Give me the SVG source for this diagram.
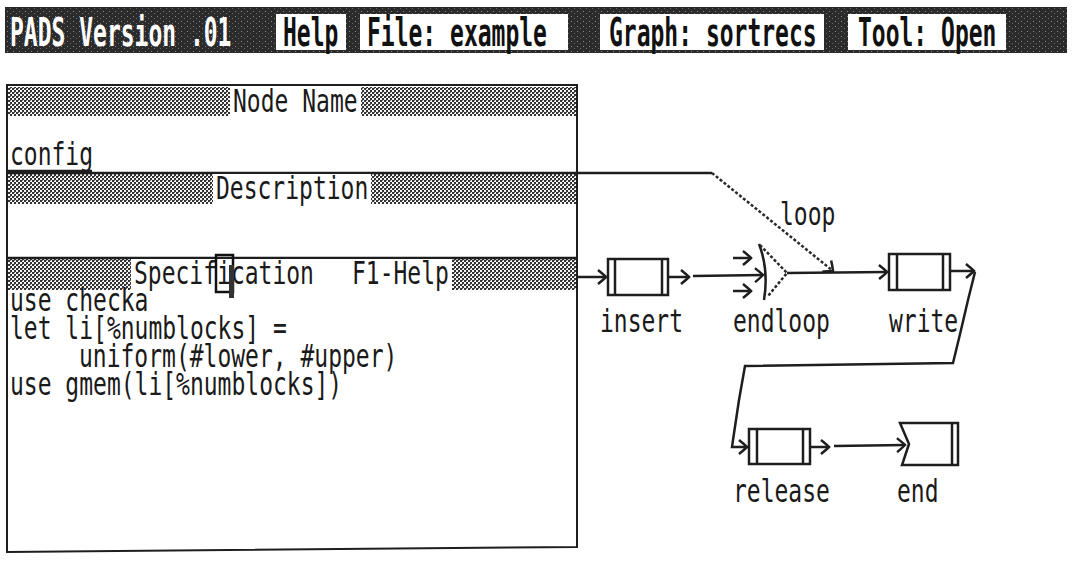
<svg xmlns="http://www.w3.org/2000/svg" width="1073" height="563" viewBox="0 0 1073 563">
<style>
.t{font-family:"DejaVu Sans Mono","Liberation Mono",monospace;font-size:23px;fill:#1a1a1a}
.tw{font-weight:bold;fill:#fff}
.tm{font-weight:bold;fill:#111}
.ln{fill:none;stroke:#1e1e1e;stroke-width:2.5}
.dot{fill:none;stroke:#2a2a2a;stroke-width:2.5;stroke-dasharray:3 2}
.box{fill:#fff;stroke:#1e1e1e;stroke-width:2.5}
.menu{fill:#fff}
</style>
<defs>
<pattern id="dither" width="4" height="4" patternUnits="userSpaceOnUse">
<rect width="4" height="4" fill="#f4f4f4"/>
<rect width="2" height="2" fill="#333"/>
<rect x="2" y="2" width="2" height="2" fill="#333"/>
<rect x="2" y="0" width="1" height="1" fill="#666"/>
</pattern>
<pattern id="dark" width="6" height="5" patternUnits="userSpaceOnUse">
<rect width="6" height="5" fill="#2b2b2b"/>
<rect x="1" y="1" width="1" height="1" fill="#8a8a8a"/>
<rect x="4" y="3" width="1" height="1" fill="#6a6a6a"/>
</pattern>
<marker id="ah" markerWidth="12" markerHeight="16" refX="10" refY="8" orient="auto" markerUnits="userSpaceOnUse">
<path d="M2,1 Q7,5 10,8 Q7,11 2,15" fill="none" stroke="#1e1e1e" stroke-width="2.5"/>
</marker>
</defs>
<rect width="1073" height="563" fill="#fff"/>

<g id="titlebar">
<rect x="5" y="7" width="1062" height="46" fill="url(#dark)"/>
<text class="t tw" transform="translate(10,46) scale(1,1.7)">PADS Version .01</text>
<g id="menu-help"><rect class="menu" x="276" y="14" width="70" height="36"/><text class="t tm" transform="translate(283,46) scale(1,1.7)">Help</text></g>
<g id="menu-file"><rect class="menu" x="360" y="14" width="208" height="36"/><text class="t tm" transform="translate(367,46) scale(1,1.7)">File: example</text></g>
<g id="menu-graph"><rect class="menu" x="600" y="14" width="224" height="36"/><text class="t tm" transform="translate(609,46) scale(1,1.7)">Graph: sortrecs</text></g>
<g id="menu-tool"><rect class="menu" x="848" y="14" width="158" height="36"/><text class="t tm" transform="translate(858,46) scale(1,1.7)">Tool: Open</text></g>
</g>

<g id="panel">
<path d="M7,85 L577,85 L577,547 L7,552 Z" fill="#fff" stroke="#1e1e1e" stroke-width="2"/>
<rect x="8" y="87" width="568" height="29" fill="url(#dither)"/>
<rect x="230" y="87" width="131" height="29" fill="#fff"/>
<text class="t" transform="translate(233,112) scale(1,1.4)">Node Name</text>
<text class="t" transform="translate(10,165) scale(1,1.4)">config</text>
<line class="ln" x1="8" y1="171" x2="92" y2="171"/>
<rect x="8" y="173" width="568" height="31" fill="url(#dither)"/>
<line class="ln" x1="8" y1="173" x2="577" y2="173"/>
<rect x="213" y="174" width="158" height="30" fill="#fff"/>
<text class="t" transform="translate(216,199) scale(1,1.4)">Description</text>
<rect x="8" y="258" width="568" height="32" fill="url(#dither)"/>
<line class="ln" x1="8" y1="258" x2="577" y2="258"/>
<rect x="131" y="259" width="321" height="31" fill="#fff"/>
<text class="t" transform="translate(134,284) scale(1,1.4)">Specification<tspan x="218">F1-Help</tspan></text>
<rect x="216" y="255" width="17" height="37" fill="none" stroke="#111" stroke-width="2.5"/>
<rect x="229" y="265" width="5" height="33" fill="#333"/>
<text class="t" transform="translate(10,311) scale(1,1.4)">use checka</text>
<text class="t" transform="translate(10,339) scale(1,1.4)">let li[%numblocks] =</text>
<text class="t" transform="translate(79,367) scale(1,1.4)">uniform(#lower, #upper)</text>
<text class="t" transform="translate(10,395) scale(1,1.4)">use gmem(li[%numblocks])</text>
</g>

<g id="insert">
<rect class="box" x="608" y="259" width="60" height="36"/>
<line class="ln" x1="615" y1="259" x2="615" y2="295"/>
<line class="ln" x1="662" y1="259" x2="662" y2="295"/>
<line class="ln" x1="668" y1="277" x2="689" y2="277" marker-end="url(#ah)"/>
<text class="t" transform="translate(600,332) scale(1,1.4)">insert</text>
</g>

<g id="endloop">
<path class="ln" d="M759,244 Q769,270 764,300"/>
<path class="dot" d="M760,245 L787,273 L768,296"/>
<line class="ln" x1="733" y1="258" x2="751" y2="258" marker-end="url(#ah)"/>
<line class="ln" x1="733" y1="291" x2="751" y2="291" marker-end="url(#ah)"/>
<text class="t" transform="translate(733,332) scale(1,1.4)">endloop</text>
</g>

<g id="write">
<rect class="box" x="889" y="254" width="61" height="36"/>
<line class="ln" x1="897" y1="254" x2="897" y2="290"/>
<line class="ln" x1="943" y1="254" x2="943" y2="290"/>
<line class="ln" x1="950" y1="271" x2="974" y2="271" marker-end="url(#ah)"/>
<text class="t" transform="translate(889,332) scale(1,1.4)">write</text>
</g>

<g id="release">
<rect class="box" x="749" y="429" width="61" height="35"/>
<line class="ln" x1="757" y1="429" x2="757" y2="464"/>
<line class="ln" x1="803" y1="429" x2="803" y2="464"/>
<line class="ln" x1="810" y1="447" x2="829" y2="447" marker-end="url(#ah)"/>
<text class="t" transform="translate(733,502) scale(1,1.4)">release</text>
</g>

<g id="end">
<path class="box" d="M900,423 L958,423 L958,465 L902,465 L909,444 Z"/>
<line class="ln" x1="952" y1="423" x2="952" y2="465"/>
<text class="t" transform="translate(897,502) scale(1,1.4)">end</text>
</g>

<g id="connectors">
<line class="ln" x1="577" y1="277" x2="606" y2="277" marker-end="url(#ah)"/>
<line class="ln" x1="693" y1="276" x2="763" y2="275" marker-end="url(#ah)"/>
<line class="ln" x1="787" y1="273" x2="887" y2="272" marker-end="url(#ah)"/>
<path class="ln" d="M577,173 L712,173"/>
<path class="dot" d="M712,173 L833,271" marker-end="url(#ah)"/>
<text class="t" transform="translate(780,225) scale(1,1.4)">loop</text>
<path class="ln" d="M975,272 L968,300 L961,330 L953,363 L745,366 L739,400 L733,440 L732,447 L747,447" marker-end="url(#ah)"/>
<line class="ln" x1="834" y1="446" x2="905" y2="445" marker-end="url(#ah)"/>
</g>
</svg>
